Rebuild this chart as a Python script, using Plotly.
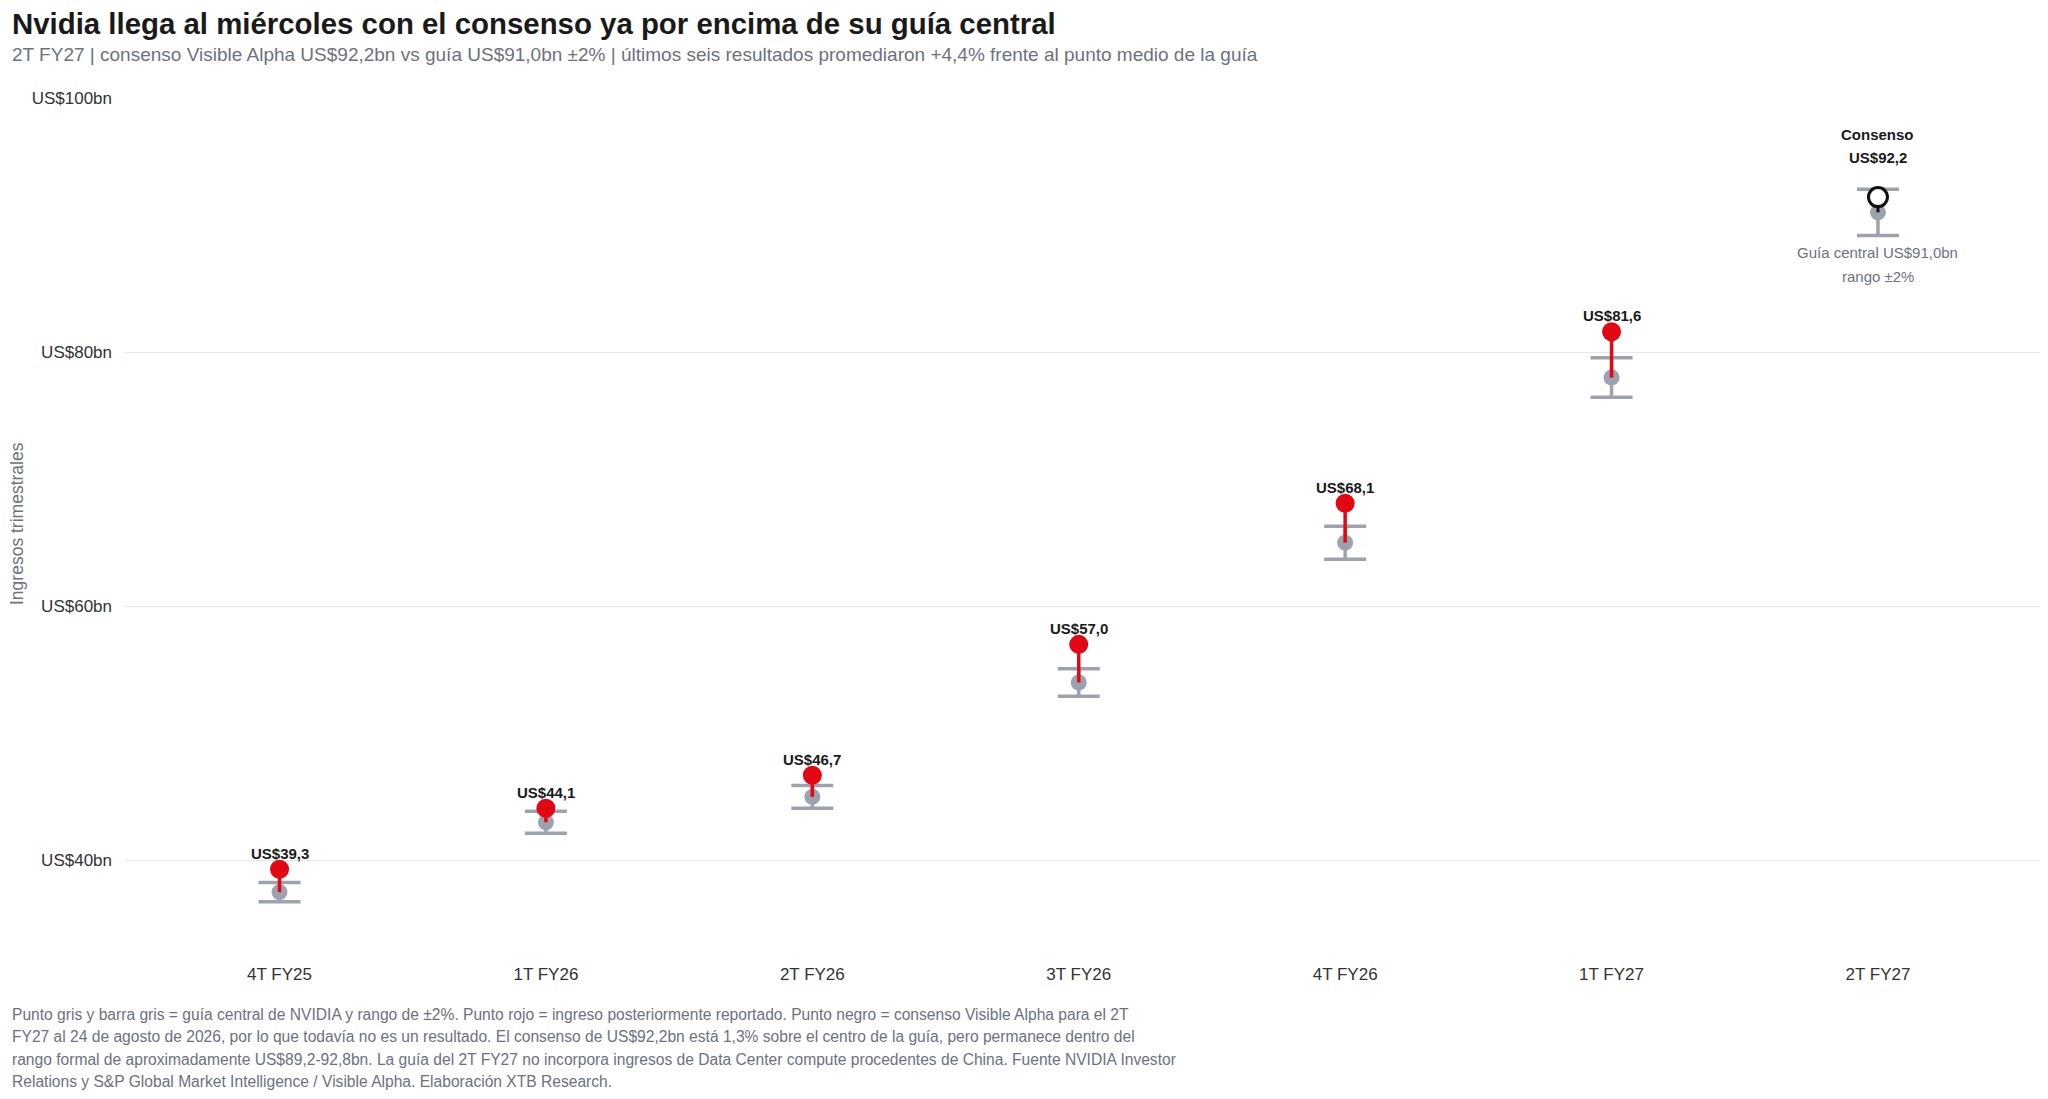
import plotly.graph_objects as go

# quarters and revenue figures (US$bn)
quarters = ["4T FY25", "1T FY26", "2T FY26", "3T FY26", "4T FY26", "1T FY27", "2T FY27"]
guide_mid = [37.5, 43.0, 45.0, 54.0, 65.0, 78.0, 91.0]
reported = [39.3, 44.1, 46.7, 57.0, 68.1, 81.6]
consensus_q = "2T FY27"
consensus = 92.2
guide_band_pct = 2
y_ticks = [40, 60, 80, 100]
y_ticktext = ["US$40bn", "US$60bn", "US$80bn", "US$100bn"]

title = "Nvidia llega al miércoles con el consenso ya por encima de su guía central"
subtitle = ("2T FY27 | consenso Visible Alpha US$92,2bn vs guía US$91,0bn ±2% | "
            "últimos seis resultados promediaron +4,4% frente al punto medio de la guía")
note_lines = [
    "Punto gris y barra gris = guía central de NVIDIA y rango de ±2%. Punto rojo = ingreso posteriormente reportado. Punto negro = consenso Visible Alpha para el 2T",
    "FY27 al 24 de agosto de 2026, por lo que todavía no es un resultado. El consenso de US$92,2bn está 1,3% sobre el centro de la guía, pero permanece dentro del",
    "rango formal de aproximadamente US$89,2-92,8bn. La guía del 2T FY27 no incorpora ingresos de Data Center compute procedentes de China. Fuente NVIDIA Investor",
    "Relations y S&P Global Market Intelligence / Visible Alpha. Elaboración XTB Research.",
]

RED = "#e30613"
GREY = "#9ca3af"
MUTED = "#6b7280"
FONT = "Liberation Sans, Arial, sans-serif"


def fmt(v):
    return ("%.1f" % v).replace(".", ",")


fig = go.Figure()

# guidance midpoint + ±2% range
fig.add_trace(go.Scatter(
    x=quarters, y=guide_mid, mode="markers",
    marker=dict(size=16, color=GREY),
    error_y=dict(type="percent", value=guide_band_pct, color=GREY, thickness=3.5, width=21),
    hoverinfo="skip",
))

# red connectors guidance -> reported
cx, cy = [], []
for q, g, r in zip(quarters, guide_mid, reported):
    cx += [q, q, None]
    cy += [g, r, None]
fig.add_trace(go.Scatter(x=cx, y=cy, mode="lines", line=dict(color=RED, width=3.5), hoverinfo="skip"))

fig.add_trace(go.Scatter(
    x=quarters[:len(reported)], y=reported, mode="markers",
    marker=dict(size=19, color=RED), hoverinfo="skip",
))

# consensus
fig.add_trace(go.Scatter(x=[consensus_q, consensus_q], y=[guide_mid[-1], consensus], mode="lines",
                         line=dict(color="#111111", width=3), hoverinfo="skip"))
fig.add_trace(go.Scatter(
    x=[consensus_q], y=[consensus], mode="markers",
    marker=dict(size=19, color="white", line=dict(color="#111111", width=3)), hoverinfo="skip",
))

lab_font = dict(size=15, color="#1a1a1a", family=FONT)
for q, r in zip(quarters, reported):
    fig.add_annotation(x=q, y=r, text="<b>US$%s</b>" % fmt(r),
                       showarrow=False, yanchor="middle", yshift=16, font=lab_font)

fig.add_annotation(x=consensus_q, y=consensus, text="<b>Consenso</b>",
                   showarrow=False, yanchor="middle", yshift=63, font=lab_font)
fig.add_annotation(x=consensus_q, y=consensus, text="<b>US$%s</b>" % fmt(consensus),
                   showarrow=False, yanchor="middle", yshift=40, font=lab_font)
fig.add_annotation(x=consensus_q, y=guide_mid[-1], text="Guía central US$%sbn" % fmt(guide_mid[-1]),
                   showarrow=False, yanchor="middle", yshift=-40,
                   font=dict(size=15, color=MUTED, family=FONT))
fig.add_annotation(x=consensus_q, y=guide_mid[-1], text="rango ±%d%%" % guide_band_pct,
                   showarrow=False, yanchor="middle", yshift=-64,
                   font=dict(size=15, color=MUTED, family=FONT))

# titles and notes
fig.add_annotation(xref="paper", yref="paper", x=-0.0599, y=1.0868, xanchor="left", yanchor="middle",
                   text="<b>%s</b>" % title,
                   showarrow=False, font=dict(size=29.4, color="#1a1a1a", family=FONT))
fig.add_annotation(xref="paper", yref="paper", x=-0.0599, y=1.0498, xanchor="left", yanchor="middle",
                   text=subtitle, showarrow=False, font=dict(size=19, color=MUTED, family=FONT))
for i, line in enumerate(note_lines):
    fig.add_annotation(xref="paper", yref="paper", x=-0.0599, y=-0.0613 - i * 0.0255,
                       xanchor="left", yanchor="middle", align="left", text=line,
                       showarrow=False, font=dict(size=15.6, color=MUTED, family=FONT))
fig.add_annotation(xref="paper", yref="paper", x=-0.0563, y=0.508, textangle=-90,
                   xanchor="center", text="Ingresos trimestrales", showarrow=False,
                   font=dict(size=17.5, color=MUTED, family=FONT))

fig.update_layout(
    width=2040, height=1091,
    margin=dict(l=117, r=3, t=90, b=137),
    paper_bgcolor="white", plot_bgcolor="white",
    showlegend=False,
    font=dict(family=FONT, size=17, color="#333333"),
    xaxis=dict(type="category", categoryorder="array", categoryarray=quarters,
               range=[-0.58, 6.627], showgrid=False, zeroline=False, showline=False,
               ticks="", tickfont=dict(size=17, color="#333333")),
    yaxis=dict(range=[32, 100], tickmode="array", tickvals=y_ticks, ticktext=y_ticktext,
               showgrid=True, gridcolor="#e5e7eb", gridwidth=1.3, zeroline=False, showline=False,
               ticks="", ticklabelstandoff=12, tickfont=dict(size=17, color="#333333")),
)

fig.write_html("out.html")
